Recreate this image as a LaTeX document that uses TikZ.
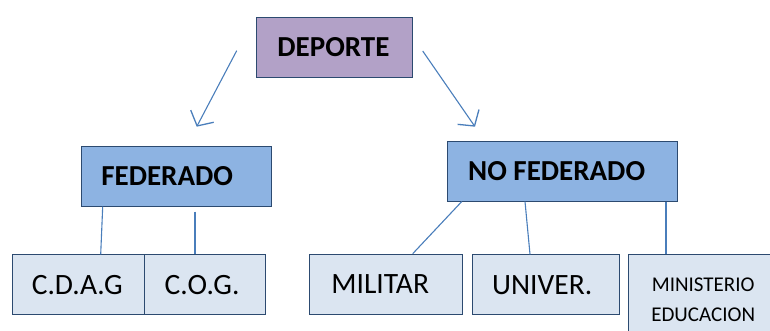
\documentclass[tikz,border=0pt]{standalone}
\usepackage{fontspec}
\setmainfont{Carlito}
\usetikzlibrary{arrows.meta}
\definecolor{purplefill}{HTML}{B2A1C7}
\definecolor{bluefill}{HTML}{8DB3E2}
\definecolor{lightfill}{HTML}{DBE5F1}
\definecolor{boxedge}{HTML}{2C4A70}
\definecolor{linkblue}{HTML}{4A7EBB}
\tikzset{
  box/.style={draw=boxedge, line width=0.9pt, anchor=north west, inner sep=0pt, text=black},
  topbox/.style={box, fill=purplefill, font=\fontsize{29}{31}\selectfont\bfseries},
  midbox/.style={box, fill=bluefill, font=\fontsize{29}{31}\selectfont\bfseries},
  leafbox/.style={box, fill=lightfill, font=\fontsize{29.5}{31}\selectfont},
  link/.style={draw=linkblue, line width=1.1pt},
  arrowlink/.style={link, -{Straight Barb[length=11pt,width=26pt,line width=1.3pt]}}
}
\begin{document}
\begin{tikzpicture}[x=1pt,y=-1pt]
\useasboundingbox (0,0) rectangle (770,331);
\node[topbox, minimum width=156, minimum height=60] (dep) at (256,17) {DEPORTE\kern2pt};
\node[midbox, minimum width=190, minimum height=60] (fed) at (80.7,145.7) {FEDERADO\kern18pt};
\node[midbox, minimum width=230, minimum height=60] (nofed) at (446.7,140.7) {NO FEDERADO\kern11pt};
\node[leafbox, minimum width=132.3, minimum height=60] (cdag) at (11.7,254.3) {C.D.A.G\kern2pt};
\node[leafbox, minimum width=121.3, minimum height=60] (cog) at (144,254.3) {C.O.G.\kern6pt};
\node[leafbox, minimum width=153, minimum height=60] (mil) at (309.3,253.7) {MILITAR\kern12pt};
\node[leafbox, minimum width=147.3, minimum height=60] (univ) at (471.7,254.3) {UNIVER.\kern7pt};
\node[leafbox, minimum width=150, minimum height=90, font=\fontsize{21}{29.3}\selectfont, align=center] (min) at (627.7,254.3) {MINISTERIO\\EDUCACION};
% arrows from DEPORTE
\coordinate (a1s) at (236.7,50.7);
\coordinate (a1e) at (196.7,126.7);
\coordinate (a2s) at (422.7,51);
\coordinate (a2e) at (475,126.7);
\draw[arrowlink] (a1s) -- (a1e);
\draw[arrowlink] (a2s) -- (a2e);
% connectors
\draw[link] (fed.south west) ++(22,0) -- ([xshift=89]cdag.north west);
\draw[link] ([xshift=114.3,yshift=-5]fed.south west) -- ([xshift=51]cog.north west);
\draw[link] ([xshift=15]nofed.south west) -- ([xshift=103.4]mil.north west);
\draw[link] ([xshift=78.3]nofed.south west) -- ([xshift=58.3]univ.north west);
\draw[link] ([xshift=219.3]nofed.south west) -- ([xshift=38.3]min.north west);
\end{tikzpicture}
\end{document}
